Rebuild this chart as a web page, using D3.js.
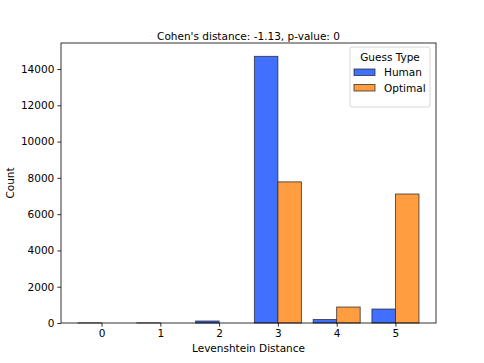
<!DOCTYPE html>
<html>
<head>
<meta charset="utf-8">
<script src="https://cdn.jsdelivr.net/npm/d3@7"></script>
<style>
  body { margin: 0; background: #fff; }
  text { font-family: "DejaVu Sans", sans-serif; fill: #000; }
</style>
</head>
<body>
<div id="chart"></div>
<script>
// data
var distances = [0, 1, 2, 3, 4, 5]
var human = [5, 5, 110, 14700, 190, 770]
var optimal = [0, 0, 0, 7780, 880, 7110]
var guessTypes = ["Human", "Optimal"]
var yTicks = [0, 2000, 4000, 6000, 8000, 10000, 12000, 14000]

var svgWidth = 484, svgHeight = 363
var margin = {top: 43, right: 48, bottom: 40, left: 61}
var chartWidth = svgWidth - margin.left - margin.right
var chartHeight = svgHeight - margin.top - margin.bottom

var colors = {Human: "#4170fe", Optimal: "#ff9d40"}

var svg = d3.select("#chart").append("svg")
  .attr("width", svgWidth)
  .attr("height", svgHeight)

var chartGroup = svg.append("g")
  .attr("transform", `translate(${margin.left},${margin.top})`)

var xScale = d3.scaleLinear()
  .domain([-0.69, 5.69])
  .range([0, chartWidth])

var ymax = d3.max(human.concat(optimal)) * 1.05
var yScale = d3.scaleLinear()
  .domain([0, ymax])
  .range([chartHeight, 0])

// bars
var rows = []
distances.forEach(function(d, i) {
  rows.push({x: d, key: "Human", v: human[i], off: -0.4})
  rows.push({x: d, key: "Optimal", v: optimal[i], off: 0})
})

chartGroup.selectAll("rect.bar").data(rows).enter().append("rect")
  .attr("class", "bar")
  .attr("x", d => xScale(d.x + d.off))
  .attr("width", d => xScale(d.x + d.off + 0.4) - xScale(d.x + d.off))
  .attr("y", d => yScale(d.v))
  .attr("height", d => yScale(0) - yScale(d.v))
  .attr("fill", d => colors[d.key])
  .attr("stroke", "#222")
  .attr("stroke-opacity", 0.8)
  .attr("stroke-width", 0.9)

// axes
var bottomAxis = d3.axisBottom(xScale).tickValues(distances).tickFormat(d3.format("d"))
  .tickSizeOuter(0).tickSize(3.7).tickPadding(3)
var leftAxis = d3.axisLeft(yScale).tickValues(yTicks).tickFormat(d3.format("d"))
  .tickSizeOuter(0).tickSize(3.7).tickPadding(3)

var xg = chartGroup.append("g")
  .attr("transform", `translate(0,${chartHeight})`)
  .call(bottomAxis)
var yg = chartGroup.append("g").call(leftAxis)
;[xg, yg].forEach(function(g) {
  g.select(".domain").remove()
  g.selectAll("text").style("font-size", "10.5px").style("font-family", "DejaVu Sans")
  g.selectAll("line").attr("stroke", "#000").attr("stroke-width", 0.8)
})

// frame
chartGroup.append("rect")
  .attr("width", chartWidth).attr("height", chartHeight)
  .attr("fill", "none").attr("stroke", "#000").attr("stroke-width", 0.8)

// titles
chartGroup.append("text")
  .attr("x", chartWidth / 2).attr("y", -3)
  .attr("text-anchor", "middle").style("font-size", "10.5px")
  .text("Cohen's distance: -1.13, p-value: 0")

chartGroup.append("text")
  .attr("x", chartWidth / 2).attr("y", chartHeight + 29)
  .attr("text-anchor", "middle").style("font-size", "10.5px")
  .text("Levenshtein Distance")

chartGroup.append("text")
  .attr("transform", "rotate(-90)")
  .attr("x", -chartHeight / 2).attr("y", -47)
  .attr("text-anchor", "middle").style("font-size", "10.5px")
  .text("Count")

// legend
var legend = chartGroup.append("g")
  .attr("transform", `translate(${chartWidth - 86},4)`)
legend.append("rect")
  .attr("width", 80).attr("height", 60).attr("rx", 2)
  .attr("fill", "#fff").attr("fill-opacity", 0.8)
  .attr("stroke", "#ccc").attr("stroke-width", 0.8)
legend.append("text")
  .attr("x", 40).attr("y", 14)
  .attr("text-anchor", "middle").style("font-size", "10.5px")
  .text("Guess Type")
guessTypes.forEach(function(k, i) {
  legend.append("rect")
    .attr("x", 4).attr("y", 22 + i * 15.5)
    .attr("width", 21).attr("height", 6.5)
    .attr("fill", colors[k]).attr("stroke", "#222").attr("stroke-opacity", 0.8).attr("stroke-width", 0.9)
  legend.append("text")
    .attr("x", 34).attr("y", 29 + i * 15.5)
    .style("font-size", "10.5px")
    .text(k)
})
</script>
</body>
</html>
